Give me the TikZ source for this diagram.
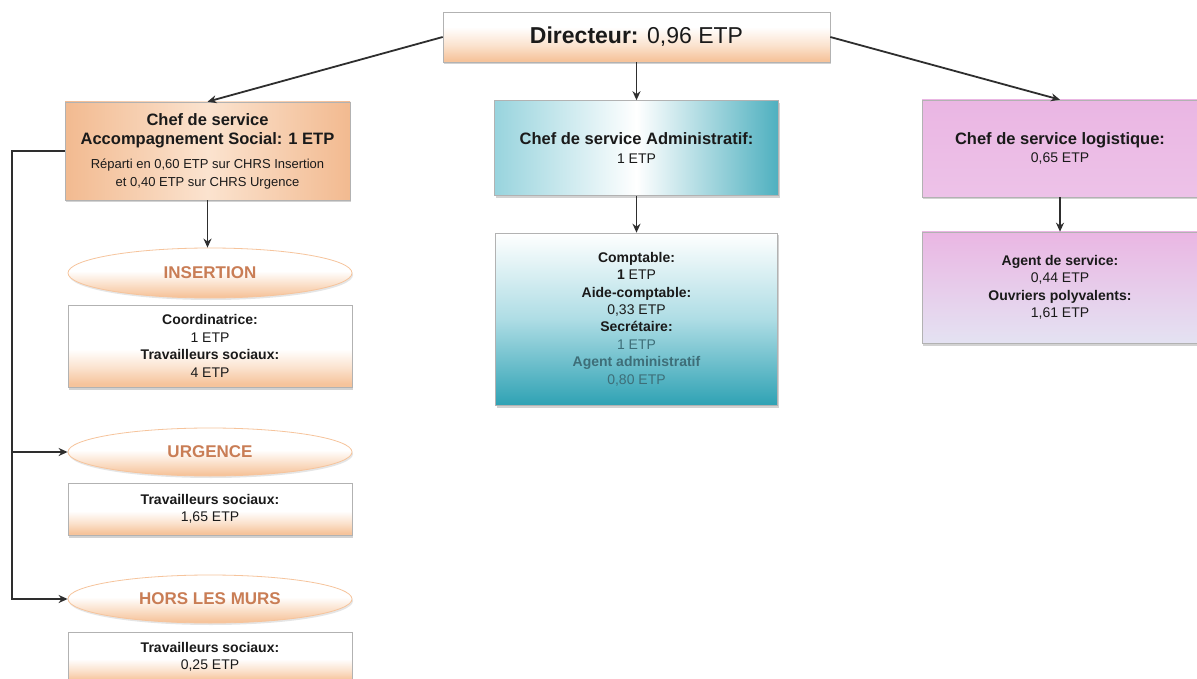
\documentclass[tikz,border=0pt]{standalone}
\usepackage{fontspec}
\setmainfont{Liberation Sans}
\usetikzlibrary{shapes.geometric,shadows,arrows.meta}
\definecolor{peach}{HTML}{F6C49C}
\definecolor{peachL}{HTML}{FBE3CF}
\definecolor{peachD}{HTML}{F2BA90}
\definecolor{orangetxt}{HTML}{C97D55}
\definecolor{tealD}{HTML}{2FA2B4}
\definecolor{tealL}{HTML}{6CC1CF}
\definecolor{tealfade}{HTML}{3E6E78}
\definecolor{pinkA}{HTML}{EAB6E3}
\definecolor{pinkB}{HTML}{EDC2E8}
\definecolor{lav}{HTML}{E4E2F2}
\definecolor{txt}{HTML}{1A1A1A}
\definecolor{linec}{HTML}{2E2E2E}
\pgfdeclareverticalshading{peachfade}{100bp}{color(0bp)=(peach); color(27bp)=(peach); color(37bp)=(peachL); color(48bp)=(white); color(100bp)=(white)}
\pgfdeclareverticalshading{ovalfade}{100bp}{color(0bp)=(peach); color(27bp)=(peach); color(40bp)=(peachL); color(52bp)=(white); color(100bp)=(white)}
\pgfdeclareverticalshading{dirfade}{100bp}{color(0bp)=(peach); color(27bp)=(peach); color(42bp)=(peachL); color(60bp)=(white); color(100bp)=(white)}
\newcommand\bigbold[1]{{\fontsize{16.5}{19}\selectfont\bfseries #1}}
\tikzset{
  basebox/.style={rectangle, draw=gray!60, line width=0.6pt, inner sep=0pt, align=center, text=txt,
    font=\fontsize{14}{17.4}\selectfont,
    drop shadow={opacity=0.35, shadow xshift=1pt, shadow yshift=-2.5pt}},
  peachbox/.style={basebox, shading=peachfade},
  oval/.style={ellipse, draw=peach, line width=0.8pt, inner sep=0pt, shading=ovalfade,
    text=orangetxt, font=\fontsize{17}{20}\selectfont\bfseries,
    drop shadow={opacity=0.2, shadow xshift=1pt, shadow yshift=-2pt}},
  conn/.style={draw=linec, line width=1.8pt, -{Stealth[length=9pt,width=8pt]}}
}
\begin{document}
\begin{tikzpicture}[x=1pt,y=-1pt]
\useasboundingbox[fill=white] (0,0) rectangle (1197,679);

% Director
\node[basebox, shading=dirfade, minimum width=387pt, minimum height=50pt,
  font=\fontsize{23}{27}\selectfont] (dir) at (636.5,37) {\textbf{Directeur:} 0,96 ETP};

% Chef de service Accompagnement Social
\node[basebox, left color=peachD, right color=peachD, middle color=peachL, minimum width=285pt, minimum height=98pt,
  font=\fontsize{13}{17}\selectfont] (as) at (207.5,151)
  {\bigbold{Chef de service}\\[2pt]\bigbold{Accompagnement Social: 1 ETP}\\[7pt]
   Réparti en 0,60 ETP sur CHRS Insertion\\[1pt]et 0,40 ETP sur CHRS Urgence};

% Insertion
\node[oval, minimum width=284pt, minimum height=50pt] (ins) at (210,273) {INSERTION};
\node[peachbox, minimum width=284pt, minimum height=82pt] (insb) at (210,346)
  {\textbf{Coordinatrice:}\\1 ETP\\\textbf{Travailleurs sociaux:}\\4 ETP};

% Urgence
\node[oval, minimum width=284pt, minimum height=48pt] (urg) at (210,452) {URGENCE};
\node[peachbox, minimum width=284pt, minimum height=52pt] (urgb) at (210,509)
  {\textbf{Travailleurs sociaux:}\\1,65 ETP};

% Hors les murs
\node[oval, minimum width=284pt, minimum height=48pt] (hor) at (210,599) {HORS LES MURS};
\node[peachbox, minimum width=284pt, minimum height=50pt] (horb) at (210,657)
  {\textbf{Travailleurs sociaux:}\\0,25 ETP};

% Administratif
\node[basebox, left color=tealL!70, right color=tealD!85, middle color=white, minimum width=284pt, minimum height=95pt] (adm) at (636.5,148)
  {\bigbold{Chef de service Administratif:}\\[1pt]1 ETP};
\node[basebox, top color=white, bottom color=tealD, middle color=tealL!55, minimum width=282pt, minimum height=172pt] (admb) at (636.5,319)
  {\textbf{Comptable:}\\\textbf{1} ETP\\\textbf{Aide-comptable:}\\0,33 ETP\\\textbf{Secrétaire:}\\
   \textcolor{tealfade}{1 ETP}\\\textcolor{tealfade}{\textbf{Agent administratif}}\\\textcolor{tealfade}{0,80 ETP}};

% Logistique
\node[basebox, top color=pinkA, bottom color=pinkB, minimum width=276pt, minimum height=97pt] (log) at (1060,148.5)
  {\bigbold{Chef de service logistique:}\\[1pt]0,65 ETP};
\node[basebox, top color=pinkA, bottom color=lav, minimum width=276pt, minimum height=111pt] (logb) at (1060,287.5)
  {\textbf{Agent de service:}\\0,44 ETP\\\textbf{Ouvriers polyvalents:}\\1,61 ETP};

% Connectors
\draw[conn] (dir.west) -- (as.north);
\draw[conn] (dir.south) -- (adm.north);
\draw[conn] (dir.east) -- (log.north);
\draw[conn] (as.south) -- (as.south |- ins.north);
\draw[conn] (adm.south) -- (admb.north);
\draw[conn] (log.south) -- (logb.north);

\coordinate (bus) at (12,0);
\draw[conn] (as.west) -- (as.west -| bus) -- (bus |- hor.west) -- (hor.west);
\draw[conn] (bus |- urg.west) -- (urg.west);
\end{tikzpicture}
\end{document}
